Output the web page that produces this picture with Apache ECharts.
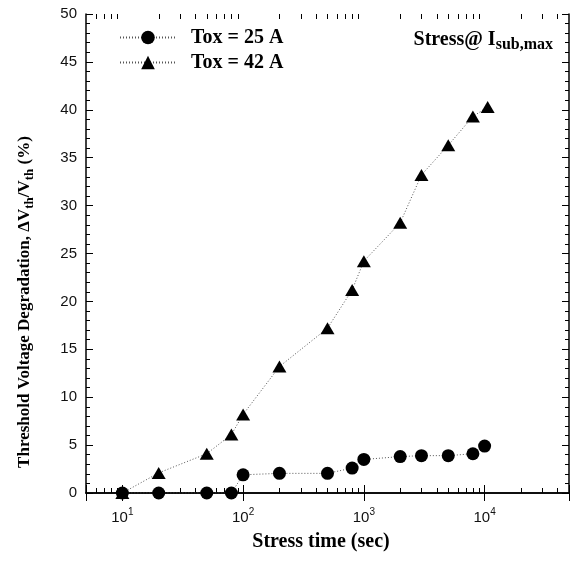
<!DOCTYPE html>
<html>
<head>
<meta charset="utf-8">
<script src="https://cdn.jsdelivr.net/npm/echarts@6/dist/echarts.min.js"></script>
<style>
  html, body { margin: 0; padding: 0; background: #fff; }
  #chart { width: 575px; height: 562px; }
</style>
</head>
<body>
<div id="chart"></div>
<script>
// Threshold voltage degradation vs. stress time, two oxide thicknesses
const seriesNames = ['Tox = 25 A', 'Tox = 42 A'];
const times25 = [10, 20, 50, 80, 100, 200, 500, 800, 1000, 2000, 3000, 5000, 8000, 10000];
const deg25   = [0, 0, 0, 0, 1.9, 2.05, 2.05, 2.6, 3.5, 3.8, 3.9, 3.9, 4.1, 4.9];
const times42 = [10, 20, 50, 80, 100, 200, 500, 800, 1000, 2000, 3000, 5000, 8000, 10600];
const deg42   = [0, 2.1, 4.1, 6.1, 8.2, 13.2, 17.2, 21.2, 24.2, 28.2, 33.2, 36.3, 39.3, 40.3];

// axis ranges and tick labels
const xRange = [5, 50000];
const yRange = [0, 50];
const yStep = 5;
const decadeExponents = ['1', '2', '3', '4'];
const minorDecades = [1, 10, 100, 1000, 10000];
const minorMultipliers = [2, 3, 4, 5, 6, 7, 8, 9];

const minorTickValues = [];
minorDecades.forEach(d => minorMultipliers.forEach(m => {
  const v = d * m;
  if (v > xRange[0] && v < xRange[1]) minorTickValues.push(v);
}));

const serif = 'Liberation Serif';
const sans = 'Liberation Sans';

const chart = echarts.init(document.getElementById('chart'), null, { renderer: 'canvas' });

const frameLine = { show: true, lineStyle: { color: '#000', width: 1.5 } };

function xLabel(v) {
  const e = Math.round(Math.log10(v));
  if (Math.abs(Math.log10(v) - e) > 1e-6) return '';
  const s = String(e);
  if (decadeExponents.indexOf(s) < 0) return '';
  return '{b|10}{sup|' + s + '}';
}

function titleGraphics() {
  return [
    {
      type: 'text',
      x: 25, y: 302,
      rotation: Math.PI / 2,
      style: {
        text: '{m|Threshold Voltage Degradation, ΔV}{s|th}{m|/V}{s|th}{m| (%)}',
        align: 'center',
        verticalAlign: 'middle',
        rich: {
          m: { fontFamily: serif, fontWeight: 'bold', fontSize: 17, lineHeight: 17, verticalAlign: 'top', fill: '#000' },
          s: { fontFamily: serif, fontWeight: 'bold', fontSize: 13, lineHeight: 13, padding: [9, 0, 0, 0], fill: '#000' }
        }
      }
    },
    {
      type: 'text',
      x: 321, y: 542,
      style: {
        text: 'Stress time (sec)',
        align: 'center',
        verticalAlign: 'middle',
        fontFamily: serif, fontWeight: 'bold', fontSize: 20, fill: '#000'
      }
    },
    {
      type: 'text',
      x: 553, y: 40,
      style: {
        text: '{m|Stress@ I}{s|sub,max}',
        align: 'right',
        verticalAlign: 'middle',
        rich: {
          m: { fontFamily: serif, fontWeight: 'bold', fontSize: 20, lineHeight: 20, verticalAlign: 'top', fill: '#000' },
          s: { fontFamily: serif, fontWeight: 'bold', fontSize: 16, lineHeight: 16, padding: [10, 0, 0, 0], fill: '#000' }
        }
      }
    }
  ];
}

const option = {
  animation: false,
  backgroundColor: '#fff',
  grid: { left: 86, right: 6, top: 14, bottom: 69, containLabel: false },
  legend: {
    data: seriesNames,
    orient: 'vertical',
    left: 114,
    top: 22,
    itemWidth: 56,
    itemHeight: 17,
    itemGap: 4,
    selectedMode: false,
    textStyle: { fontFamily: serif, fontWeight: 'bold', fontSize: 20, lineHeight: 21, color: '#000', padding: [0, 0, 0, 10] }
  },
  xAxis: [
    {
      type: 'log', logBase: 10, min: xRange[0], max: xRange[1], position: 'bottom',
      axisLine: frameLine,
      axisTick: { show: true, inside: true, length: 8, lineStyle: { color: '#000', width: 1 } },
      splitLine: { show: false },
      axisLabel: {
        margin: 14,
        formatter: xLabel,
        rich: {
          b: { fontFamily: sans, fontSize: 15, color: '#111', lineHeight: 18, verticalAlign: 'bottom' },
          sup: { fontFamily: sans, fontSize: 10, color: '#111', lineHeight: 10, verticalAlign: 'top' }
        }
      }
    },
    {
      type: 'log', logBase: 10, min: xRange[0], max: xRange[1], position: 'top',
      axisLine: frameLine,
      axisTick: { show: true, inside: true, length: 8, lineStyle: { color: '#000', width: 1 } },
      splitLine: { show: false },
      axisLabel: { show: false }
    }
  ],
  yAxis: [
    {
      type: 'value', min: yRange[0], max: yRange[1], interval: yStep, position: 'left',
      axisLine: frameLine,
      axisTick: { show: true, inside: true, length: 7, lineStyle: { color: '#000', width: 1 } },
      minorTick: { show: true, splitNumber: 5, length: 4, lineStyle: { color: '#000', width: 1 } },
      splitLine: { show: false },
      axisLabel: { margin: 9, fontFamily: sans, fontSize: 15, color: '#111' }
    },
    {
      type: 'value', min: yRange[0], max: yRange[1], interval: yStep, position: 'right',
      axisLine: frameLine,
      axisTick: { show: true, inside: true, length: 7, lineStyle: { color: '#000', width: 1 } },
      minorTick: { show: true, splitNumber: 5, length: 4, lineStyle: { color: '#000', width: 1 } },
      splitLine: { show: false },
      axisLabel: { show: false }
    }
  ],
  series: [
    {
      name: seriesNames[1],
      type: 'line',
      data: times42.map((t, i) => [t, deg42[i]]),
      symbol: 'triangle',
      symbolSize: [14, 12],
      itemStyle: { color: '#000' },
      lineStyle: { color: '#555', width: 1, type: [1, 2] },
      z: 3
    },
    {
      name: seriesNames[0],
      type: 'line',
      data: times25.map((t, i) => [t, deg25[i]]),
      symbol: 'circle',
      symbolSize: 13,
      itemStyle: { color: '#000' },
      lineStyle: { color: '#555', width: 1, type: [1, 2] },
      z: 4
    }
  ]
};

chart.setOption(option);

// logarithmic minor ticks (2..9 per decade) on the bottom and top frame
const graphics = titleGraphics();
minorTickValues.forEach(v => {
  const b = chart.convertToPixel({ xAxisIndex: 0, yAxisIndex: 0 }, [v, yRange[0]]);
  const t = chart.convertToPixel({ xAxisIndex: 0, yAxisIndex: 0 }, [v, yRange[1]]);
  const x = Math.round(b[0]) + 0.5;
  graphics.push({ type: 'line', shape: { x1: x, y1: b[1], x2: x, y2: b[1] - 5 }, style: { stroke: '#000', lineWidth: 1 } });
  graphics.push({ type: 'line', shape: { x1: x, y1: t[1], x2: x, y2: t[1] + 5 }, style: { stroke: '#000', lineWidth: 1 } });
});
chart.setOption({ graphic: graphics });
</script>
</body>
</html>
